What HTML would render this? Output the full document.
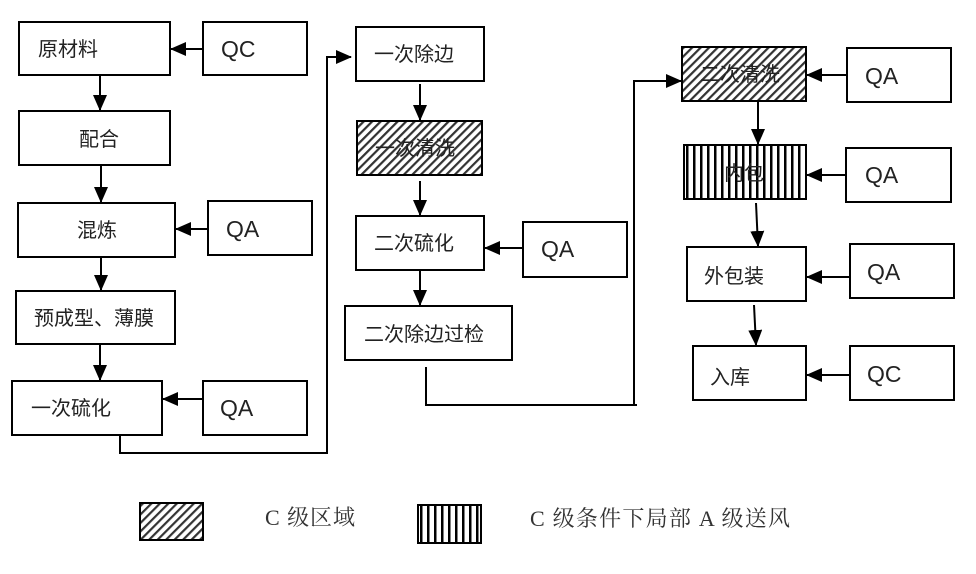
<!DOCTYPE html>
<html><head><meta charset="utf-8"><style>
body{margin:0;background:#fff;width:976px;height:569px;overflow:hidden}
text{font-family:"Liberation Sans","Noto Sans CJK SC",sans-serif;fill:#222}
.t{font-size:20px}
.q{font-size:23px}
.l{font-family:"Liberation Serif","Noto Serif CJK SC",serif;font-size:22px;fill:#333}
</style></head><body>
<svg width="976" height="569" viewBox="0 0 976 569" xmlns="http://www.w3.org/2000/svg">
<defs>
<pattern id="h" patternUnits="userSpaceOnUse" width="6" height="6" patternTransform="rotate(45)">
<rect width="6" height="6" fill="#fff"/><rect width="2.2" height="6" fill="#333"/></pattern>
<pattern id="v" patternUnits="userSpaceOnUse" width="7" height="10">
<rect width="7" height="10" fill="#fff"/><rect width="2.5" height="10" fill="#000"/></pattern>
<marker id="b" markerWidth="16" markerHeight="14" refX="15" refY="7" orient="auto" markerUnits="userSpaceOnUse"><path d="M0,0 L16,7 L0,14z" fill="#000"/></marker>
</defs>
<g fill="#fff" stroke="#000" stroke-width="2">
<rect x="19" y="22" width="151" height="53"/>
<rect x="203" y="22" width="104" height="53"/>
<rect x="19" y="111" width="151" height="54"/>
<rect x="18" y="203" width="157" height="54"/>
<rect x="208" y="201" width="104" height="54"/>
<rect x="16" y="291" width="159" height="53"/>
<rect x="12" y="381" width="150" height="54"/>
<rect x="203" y="381" width="104" height="54"/>
<rect x="356" y="27" width="128" height="54"/>
<rect x="357" y="121" width="125" height="54" fill="url(#h)"/>
<rect x="356" y="216" width="128" height="54"/>
<rect x="523" y="222" width="104" height="55"/>
<rect x="345" y="306" width="167" height="54"/>
<rect x="682" y="47" width="124" height="54" fill="url(#h)"/>
<rect x="847" y="48" width="104" height="54"/>
<rect x="684" y="145" width="122" height="54" fill="url(#v)"/>
<rect x="846" y="148" width="105" height="54"/>
<rect x="687" y="247" width="119" height="54"/>
<rect x="850" y="244" width="104" height="54"/>
<rect x="693" y="346" width="113" height="54"/>
<rect x="850" y="346" width="104" height="54"/>
<rect x="140" y="503" width="63" height="37" fill="url(#h)"/>
<rect x="418" y="505" width="63" height="38" fill="url(#v)"/>
</g>
<g stroke="#000" stroke-width="2" fill="none">
<line x1="203" y1="49" x2="171" y2="49" marker-end="url(#b)"/>
<line x1="100" y1="75" x2="100" y2="110" marker-end="url(#b)"/>
<line x1="101" y1="165" x2="101" y2="202" marker-end="url(#b)"/>
<line x1="208" y1="229" x2="176" y2="229" marker-end="url(#b)"/>
<line x1="101" y1="257" x2="101" y2="290" marker-end="url(#b)"/>
<line x1="100" y1="344" x2="100" y2="380" marker-end="url(#b)"/>
<line x1="203" y1="399" x2="163" y2="399" marker-end="url(#b)"/>
<polyline points="120,435 120,453 327,453 327,57 351,57" marker-end="url(#b)"/>
<line x1="420" y1="84" x2="420" y2="120" marker-end="url(#b)"/>
<line x1="420" y1="181" x2="420" y2="215" marker-end="url(#b)"/>
<line x1="523" y1="248" x2="485" y2="248" marker-end="url(#b)"/>
<line x1="420" y1="271" x2="420" y2="305" marker-end="url(#b)"/>
<polyline points="426,367 426,405 637,405"/>
<polyline points="634,405 634,81 681,81" marker-end="url(#b)"/>
<line x1="847" y1="75" x2="807" y2="75" marker-end="url(#b)"/>
<line x1="758" y1="101" x2="758" y2="144" marker-end="url(#b)"/>
<line x1="846" y1="175" x2="807" y2="175" marker-end="url(#b)"/>
<line x1="756" y1="203" x2="758" y2="246" marker-end="url(#b)"/>
<line x1="850" y1="277" x2="807" y2="277" marker-end="url(#b)"/>
<line x1="754" y1="305" x2="756" y2="345" marker-end="url(#b)"/>
<line x1="850" y1="375" x2="807" y2="375" marker-end="url(#b)"/>
</g>
<text class="t" x="38" y="56">原材料</text>
<text class="q" x="221" y="57">QC</text>
<text class="t" x="79" y="146">配合</text>
<text class="t" x="77" y="237">混炼</text>
<text class="q" x="226" y="237">QA</text>
<text class="t" x="34" y="325">预成型、薄膜</text>
<text class="t" x="31" y="415">一次硫化</text>
<text class="q" x="220" y="416">QA</text>
<text class="t" x="374" y="61">一次除边</text>
<text class="t" x="375" y="155">一次清洗</text>
<text class="t" x="374" y="250">二次硫化</text>
<text class="q" x="541" y="257">QA</text>
<text class="t" x="364" y="341">二次除边过检</text>
<text class="t" x="700" y="81">二次清洗</text>
<text class="q" x="865" y="84">QA</text>
<text class="t" x="724" y="180">内包</text>
<text class="q" x="865" y="183">QA</text>
<text class="t" x="704" y="283">外包装</text>
<text class="q" x="867" y="280">QA</text>
<text class="t" x="710" y="384">入库</text>
<text class="q" x="867" y="382">QC</text>
<text class="l" x="265" y="525" textLength="90">C 级区域</text>
<text class="l" x="530" y="526" textLength="260">C 级条件下局部 A 级送风</text>
</svg>
</body></html>
